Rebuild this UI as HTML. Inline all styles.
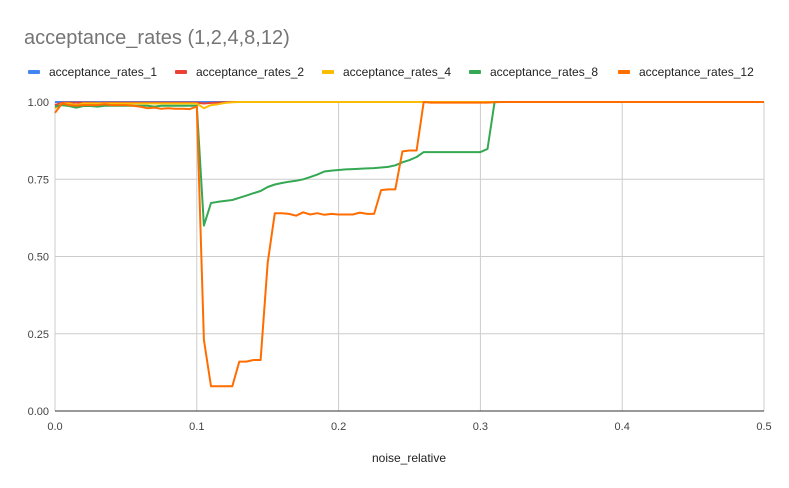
<!DOCTYPE html>
<html><head><meta charset="utf-8"><style>
body{margin:0;background:#fff;font-family:"Liberation Sans",Arial,sans-serif}
svg{display:block}
</style></head><body>
<svg id="chart" width="789" height="488" xmlns="http://www.w3.org/2000/svg">
<rect width="789" height="488" fill="#fff"/>
<text x="24" y="44" font-size="20" fill="#757575">acceptance_rates (1,2,4,8,12)</text>
<g id="legend"></g>
<g id="grid"></g><g id="series"></g><g id="axes"></g>
<text x="409" y="462" font-size="12" fill="#222" text-anchor="middle">noise_relative</text>
</svg>
<script>
const xTicks=[0,0.1,0.2,0.3,0.4,0.5];
const xTickLabels=["0.0","0.1","0.2","0.3","0.4","0.5"];
const yTicks=[0,0.25,0.5,0.75,1];
const yTickLabels=["0.00","0.25","0.50","0.75","1.00"];
const seriesNames=["acceptance_rates_1","acceptance_rates_2","acceptance_rates_4","acceptance_rates_8","acceptance_rates_12"];
const seriesColors=["#4285f4","#ea4335","#fbbc04","#34a853","#ff6d01"];
const step=0.005;
const rates1=Array(101).fill(1);
const rates2=[0.99,0.998,0.998,0.998,0.998,0.998,0.997,0.998,0.998,0.998,0.998,0.998,0.998,0.998,0.998,0.998,0.998,0.998,0.998,0.998,0.998,0.995,0.997,0.998,0.999,1,1,1,1,1,1,1,1,1,1,1,1,1,1,1,1,1,1,1,1,1,1,1,1,1,1,1,1,1,1,1,1,1,1,1,1,1,1,1,1,1,1,1,1,1,1,1,1,1,1,1,1,1,1,1,1,1,1,1,1,1,1,1,1,1,1,1,1,1,1,1,1,1,1,1,1];
const rates4=[0.98,0.995,0.995,0.99,0.995,0.995,0.995,0.995,0.995,0.995,0.995,0.995,0.995,0.995,0.995,0.995,0.995,0.995,0.995,0.995,0.995,0.98,0.99,0.993,0.997,0.999,1,1,1,1,1,1,1,1,1,1,1,1,1,1,1,1,1,1,1,1,1,1,1,1,1,1,1,1,1,1,1,1,1,1,1,1,1,1,1,1,1,1,1,1,1,1,1,1,1,1,1,1,1,1,1,1,1,1,1,1,1,1,1,1,1,1,1,1,1,1,1,1,1,1,1];
const rates8=[0.985,0.99,0.987,0.982,0.987,0.987,0.985,0.988,0.988,0.988,0.988,0.988,0.988,0.988,0.985,0.988,0.988,0.988,0.988,0.988,0.988,0.6,0.673,0.677,0.68,0.683,0.69,0.697,0.705,0.712,0.725,0.733,0.738,0.742,0.745,0.75,0.757,0.765,0.775,0.778,0.78,0.782,0.783,0.784,0.785,0.786,0.788,0.79,0.795,0.805,0.812,0.822,0.838,0.838,0.838,0.838,0.838,0.838,0.838,0.838,0.838,0.848,1,1,1,1,1,1,1,1,1,1,1,1,1,1,1,1,1,1,1,1,1,1,1,1,1,1,1,1,1,1,1,1,1,1,1,1,1,1,1,1];
const rates12=[0.965,0.995,0.99,0.988,0.99,0.99,0.99,0.993,0.99,0.99,0.99,0.988,0.985,0.98,0.982,0.978,0.98,0.978,0.978,0.977,0.985,0.23,0.08,0.08,0.08,0.08,0.16,0.16,0.165,0.165,0.48,0.64,0.64,0.638,0.632,0.643,0.636,0.64,0.635,0.638,0.636,0.636,0.636,0.642,0.638,0.638,0.715,0.717,0.717,0.84,0.843,0.843,1,0.998,0.998,0.998,0.998,0.998,0.998,0.998,0.998,0.998,0.999,1,1,1,1,1,1,1,1,1,1,1,1,1,1,1,1,1,1,1,1,1,1,1,1,1,1,1,1,1,1,1,1,1,1,1,1,1,1,1,1];
const allSeries=[rates1,rates2,rates4,rates8,rates12];

const X0=55,X1=764,Y0=411,Y1=102;
const xs=v=>X0+v/0.5*(X1-X0);
const ys=v=>Y0-v*(Y0-Y1);
const NS="http://www.w3.org/2000/svg";
function mk(tag,attrs,parent){const e=document.createElementNS(NS,tag);for(const k in attrs)e.setAttribute(k,attrs[k]);parent.appendChild(e);return e;}
const grid=document.getElementById('grid'),axes=document.getElementById('axes'),ser=document.getElementById('series'),leg=document.getElementById('legend');
xTicks.forEach((t,i)=>{
  const l=mk('line',{x1:xs(t),x2:xs(t),y1:Y1,y2:Y0,stroke:'#cccccc','stroke-width':1},grid);
  
  
  const tx=mk('text',{x:xs(t),y:Y0+19,'font-size':11,fill:'#444','text-anchor':'middle'},axes);
  tx.textContent=xTickLabels[i];
  
  
});
yTicks.forEach((t,i)=>{
  const l=mk('line',{x1:X0,x2:X1,y1:ys(t),y2:ys(t),stroke:t===0?'#333':'#cccccc','stroke-width':1},grid);
  
  
  const tx=mk('text',{x:X0-6,y:ys(t)+4,'font-size':11,fill:'#444','text-anchor':'end'},axes);
  tx.textContent=yTickLabels[i];
  
  
});
const legX=[28,175,322,469,618];
seriesNames.forEach((n,i)=>{
  const r=mk('rect',{x:legX[i],y:70,width:12,height:4,rx:1,fill:seriesColors[i]},leg);
  
  
  const t=mk('text',{x:legX[i]+21,y:76,'font-size':12,fill:'#222'},leg);
  t.textContent=n;
  
  
});
allSeries.forEach((d,i)=>{
  const pts=d.filter((v,j)=>j*step<=0.5+1e-9).map((v,j)=>xs(j*step).toFixed(1)+','+ys(v).toFixed(1)).join(' ');
  const p=mk('polyline',{points:pts,fill:'none',stroke:seriesColors[i],'stroke-width':2,'stroke-linejoin':'round'},ser);
  
  
});
</script>
</body></html>
